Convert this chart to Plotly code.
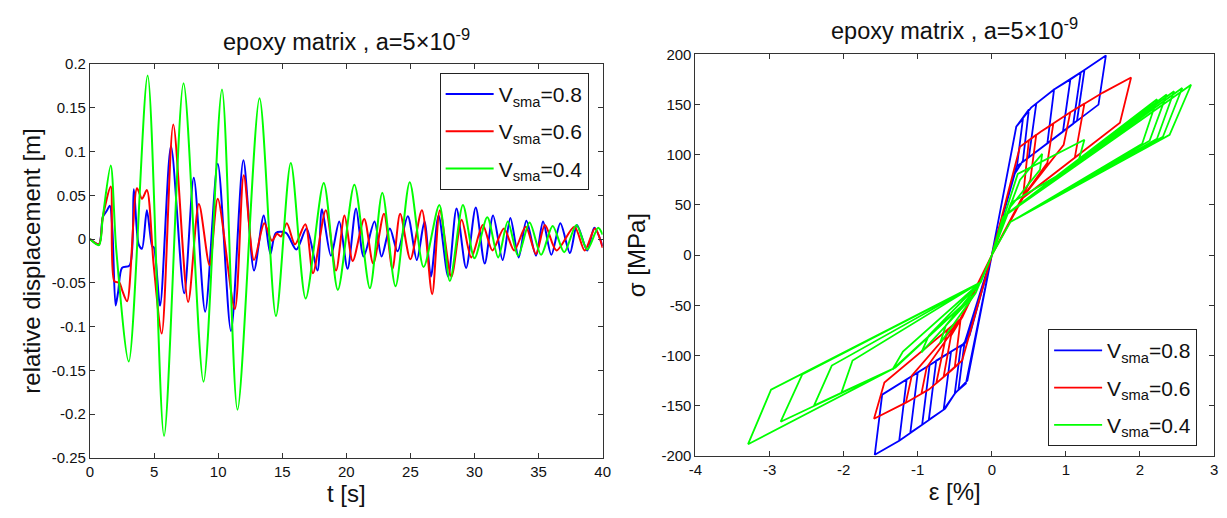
import plotly.graph_objects as go

# ---------------- left panel: relative displacement vs time (extrema) ----------------
t_08 = [0, 0.7, 1.0, 1.3, 1.55, 1.75, 2.0, 2.2, 2.5, 3.1, 3.42, 3.8, 4.06, 4.44, 4.85, 5.0, 5.47, 6.32, 7.35,
        8.1, 8.99, 9.97, 11.0, 11.97, 12.8, 13.56, 14.08, 14.5, 15.3, 16.1, 16.9, 17.75, 18.1, 18.8, 19.45,
        20.1, 20.76, 21.35, 22.2, 22.75, 23.4, 24.0, 24.8, 25.5, 26.1, 26.6, 27.2, 27.95, 28.6, 29.35, 30.1,
        30.8, 31.45, 32.2, 32.8, 33.45, 34.05, 34.8, 35.35, 36.0, 36.7, 37.45, 38.0, 38.8, 39.35, 40.0]
d_08 = [0, -0.006, 0.025, 0.032, 0.038, 0.01, -0.076, -0.06, -0.033, -0.030, 0.057, -0.006, -0.011, 0.033,
        -0.008, -0.01, -0.076, 0.106, -0.062, 0.070, -0.083, 0.086, -0.105, 0.090, -0.036, 0.027, -0.017,
        0.007, 0.007, -0.012, 0.012, -0.036, 0.034, -0.019, 0.020, -0.034, 0.035, -0.020, 0.020, -0.020,
        0.012, -0.014, 0.026, -0.024, 0.020, -0.043, 0.027, -0.043, 0.035, -0.033, 0.036, -0.028, 0.027,
        -0.024, 0.024, -0.021, 0.021, -0.019, 0.020, -0.018, 0.018, -0.016, 0.016, -0.013, 0.013, -0.008]

t_06 = [0, 0.7, 1.0, 1.62, 1.9, 2.3, 2.5, 2.9, 3.67, 4.06, 4.44, 4.96, 5.6, 6.5, 7.66, 8.5, 9.33, 9.97,
        11.3, 12.0, 12.8, 13.6, 14.2, 14.6, 14.9, 15.36, 16.0, 16.8, 17.4, 18.4, 19.2, 19.86, 20.5, 21.4,
        22.1, 22.94, 23.6, 24.2, 25.0, 25.9, 26.7, 27.3, 28.2, 29.0, 29.75, 30.65, 31.4, 32.3, 33.1, 34.0,
        34.8, 35.5, 36.4, 37.8, 38.6, 39.4, 40.0]
d_06 = [0, -0.006, 0.025, 0.060, -0.048, -0.050, -0.058, -0.071, 0.058, 0.046, 0.056, -0.028, -0.108,
        0.131, -0.072, 0.040, -0.030, 0.046, -0.080, 0.073, -0.024, 0.018, -0.002, 0.006, 0.003, 0.018,
        -0.006, 0.017, -0.039, 0.033, -0.036, 0.027, -0.025, 0.023, -0.028, 0.029, -0.034, 0.029, -0.023,
        0.033, -0.063, 0.033, -0.043, 0.022, -0.021, 0.016, -0.013, 0.012, -0.013, 0.014, -0.017, 0.016,
        -0.013, 0.014, -0.013, 0.012, -0.010]

t_04 = [0, 0.7, 1.0, 1.62, 2.05, 3.03, 4.50, 5.78, 7.30, 8.86, 10.30, 11.51, 13.23, 14.51, 15.67, 16.83,
        18.24, 19.34, 20.63, 21.84, 22.81, 23.84, 24.95, 26.03, 27.26, 28.08, 29.10, 30.0, 31.0, 31.85,
        32.6, 33.4, 34.3, 35.2, 36.1, 37.0, 37.95, 38.8, 39.65, 40.0]
d_04 = [0, -0.007, 0.025, 0.084, -0.012, -0.140, 0.187, -0.225, 0.178, -0.163, 0.171, -0.195, 0.161,
        -0.088, 0.087, -0.068, 0.064, -0.058, 0.062, -0.056, 0.053, -0.054, 0.065, -0.032, 0.039, -0.048,
        0.039, -0.022, 0.025, -0.021, 0.020, -0.019, 0.019, -0.018, 0.015, -0.015, 0.016, -0.012, 0.013,
        0.005]

# ---------------- right panel: stress-strain loops (vertices) ----------------
eps_08 = [0, 0.33, 0.42, 0.34, 0, -0.35, -0.45, -0.37, 0,
          0.33, 0.53, 0.6, 0.5, 0.33, 0, -0.35, -0.49, -0.63, -0.65, -0.55, -0.35, 0,
          0.33, 0.53, 0.84, 1.06, 0.96, 0.33, 0, -0.35, -0.49, -0.63, -0.94, -0.84, -0.35, 0,
          0.33, 0.53, 0.84, 1.06, 1.28, 1.54, 1.44, 0.33, 0,
          -0.35, -0.49, -0.63, -0.94, -1.25, -1.58, -1.48, -0.35, 0,
          0.33, 0.53, 0.84, 1.06, 1.25, 1.15, 0.33, 0, -0.35, -0.49, -0.63, -0.94, -1.25, -1.15, -0.35, 0,
          0.33, 0.53, 0.84, 1.06, 1.2, 1.1, 0.33, 0, -0.35, -0.49, -0.63, -0.94, -1.1, -1.0, -0.35, 0,
          0.33, 0.53, 0.84, 0.75, 0.33, 0, -0.35, -0.49, -0.63, -0.85, -0.75, -0.35, 0,
          0.33, 0.5, 0.42, 0.3, 0, -0.33, -0.5, -0.42, -0.3, 0]
sig_08 = [0, 128, 136, 89, 0, -128, -134, -88, 0,
          128, 147, 151, 97.5, 88, 0, -128, -137, -153, -154, -96, -87, 0,
          128, 147, 165, 175, 123, 88, 0, -128, -137, -153, -169, -109.5, -87, 0,
          128, 147, 165, 175, 186, 199, 150, 88, 0,
          -128, -137, -153, -169, -185, -199, -139, -87, 0,
          128, 147, 165, 175, 184.5, 134, 88, 0, -128, -137, -153, -169, -185, -124, -87, 0,
          128, 147, 165, 175, 182, 131, 88, 0, -128, -137, -153, -169, -177, -117, -87, 0,
          128, 147, 165, 111.5, 88, 0, -128, -137, -153, -164, -105, -87, 0,
          128, 145, 94, 80, 0, -125, -138, -92, -80, 0]

eps_06 = [0, 0.38, 0.5, 0.42, 0, -0.4, -0.5, -0.42, 0,
          0.38, 0.66, 0.83, 0.75, 0.4, 0, -0.4, -0.54, -0.75, -0.6, -0.4, 0,
          0.38, 0.66, 1.06, 0.97, 0.4, 0, -0.4, -0.54, -0.85, -1.16, -1.08, -0.4, 0,
          0.38, 0.66, 1.06, 1.5, 1.88, 1.73, 0.4, 0, -0.4, -0.54, -0.85, -1.16, -1.59, -1.45, -0.4, 0,
          0.38, 0.66, 1.06, 1.25, 1.12, 0.4, 0, -0.4, -0.54, -0.85, -0.95, -0.88, -0.4, 0,
          0.38, 0.6, 0.52, 0.4, 0, -0.4, -0.65, -0.55, -0.4, 0]
sig_06 = [0, 108, 114.4, 57, 0, -105, -111.8, -63, 0,
          108, 123, 131, 92, 56, 0, -105, -114.5, -127.7, -74.4, -62, 0,
          108, 123, 142.5, 110, 56, 0, -105, -114.5, -134, -147, -120, -62, 0,
          108, 123, 142.5, 162, 177, 132, 56, 0, -105, -114.5, -134, -147, -163, -127, -62, 0,
          108, 123, 142.5, 151, 97, 56, 0, -105, -114.5, -134, -138, -112, -62, 0,
          108, 120, 75, 56, 0, -105, -121, -80, -62, 0]

eps_04 = [0, 0.38, 0.68, 0.65, 0.25, 0, -0.22, -0.7, -0.62, -0.15, 0,
          0.35, 1.25, 1.16, 0.26, 0, -0.22, -1.34, -1.2, -0.15, 0,
          0.15, 2.23, 2.03, 0.25, 0, -0.22, -1.3, -2.03, -1.88, -0.15, 0,
          0.15, 2.69, 2.40, 0.25, 0, -0.22, -1.3, -3.29, -2.98, -0.15, 0,
          0.15, 2.57, 2.31, 0.25, 0, -0.22, -1.3, -2.85, -2.56, -0.15, 0,
          0.15, 2.46, 2.23, 0.25, 0, -0.22, -1.3, -2.40, -2.16, -0.15, 0,
          0.15, 2.36, 2.13, 0.25, 0, -0.22, -0.95, -0.85, -0.15, 0]
sig_04 = [0, 75, 101, 85, 48, 0, -38, -88, -70, -27, 0,
          81, 115, 91, 52, 0, -38, -114, -96, -27, 0,
          38, 155.4, 111, 33, 0, -38, -112, -137, -105, -27, 0,
          38, 169.8, 120, 33, 0, -38, -112, -188.4, -134, -27, 0,
          38, 166.6, 118, 33, 0, -38, -112, -166, -119, -27, 0,
          38, 163.4, 116, 33, 0, -38, -112, -150, -110, -27, 0,
          38, 160.2, 114, 33, 0, -38, -97, -80, -27, 0]

names = ["V<sub>sma</sub>=0.8", "V<sub>sma</sub>=0.6", "V<sub>sma</sub>=0.4"]
colors = ["#0000ff", "#ff0000", "#00ff00"]

x1_ticks = [0, 5, 10, 15, 20, 25, 30, 35, 40]
x1_labels = ["0", "5", "10", "15", "20", "25", "30", "35", "40"]
y1_ticks = [-0.25, -0.2, -0.15, -0.1, -0.05, 0, 0.05, 0.1, 0.15, 0.2]
y1_labels = ["-0.25", "-0.2", "-0.15", "-0.1", "-0.05", "0", "0.05", "0.1", "0.15", "0.2"]
x2_ticks = [-4, -3, -2, -1, 0, 1, 2, 3]
x2_labels = ["-4", "-3", "-2", "-1", "0", "1", "2", "3"]
y2_ticks = [-200, -150, -100, -50, 0, 50, 100, 150, 200]
y2_labels = ["-200", "-150", "-100", "-50", "0", "50", "100", "150", "200"]

FONT = "Liberation Sans, Arial, sans-serif"
W, H = 1227, 518

fig = go.Figure()
left_data = [(t_08, d_08), (t_06, d_06), (t_04, d_04)]
right_data = [(eps_08, sig_08), (eps_06, sig_06), (eps_04, sig_04)]
for i in range(3):
    fig.add_trace(go.Scatter(x=left_data[i][0], y=left_data[i][1], mode="lines", name=names[i],
                             line=dict(color=colors[i], width=2, shape="spline", smoothing=0.8),
                             legend="legend", legendgroup="L%d" % i, xaxis="x", yaxis="y"))
for i in range(3):
    fig.add_trace(go.Scatter(x=right_data[i][0], y=right_data[i][1], mode="lines", name=names[i],
                             line=dict(color=colors[i], width=1.8),
                             legend="legend2", legendgroup="R%d" % i, xaxis="x2", yaxis="y2"))

axis_common = dict(showgrid=False, zeroline=False, showline=True, linecolor="#333", linewidth=1,
                   mirror="allticks", ticks="inside", ticklen=5, tickwidth=1, tickcolor="#333",
                   tickfont=dict(family=FONT, size=15, color="#111"), tickmode="array")
title_font = dict(family=FONT, size=24, color="#111")
head_font = dict(family=FONT, size=23.5, color="#111")

fig.update_layout(
    width=W, height=H, margin=dict(l=0, r=0, t=0, b=0),
    paper_bgcolor="white", plot_bgcolor="white",
    font=dict(family=FONT, color="#111"),
    xaxis=dict(domain=[84 / W, 603 / W], range=[0, 40], tickvals=x1_ticks, ticktext=x1_labels,
               title=dict(text="t [s]", font=title_font, standoff=6), anchor="y", **axis_common),
    yaxis=dict(domain=[(H - 464) / H, (H - 57) / H], range=[-0.25, 0.2], tickvals=y1_ticks, ticktext=y1_labels,
               title=dict(text="relative displacement [m]", font=title_font, standoff=4), anchor="x", **axis_common),
    xaxis2=dict(domain=[697 / W, 1222 / W], range=[-4, 3], tickvals=x2_ticks, ticktext=x2_labels,
                title=dict(text="ε [%]", font=title_font, standoff=6), anchor="y2", **axis_common),
    yaxis2=dict(domain=[(H - 462) / H, (H - 47) / H], range=[-200, 200], tickvals=y2_ticks, ticktext=y2_labels,
                title=dict(text="σ [MPa]", font=title_font, standoff=9), anchor="x2", **axis_common),
    legend=dict(x=438 / W, y=1 - 66 / H, xanchor="left", yanchor="top", bgcolor="white",
                bordercolor="#222", borderwidth=1, font=dict(family=FONT, size=21, color="#111"),
                itemwidth=48, tracegroupgap=7),
    legend2=dict(x=1054 / W, y=1 - 331 / H, xanchor="left", yanchor="top", bgcolor="white",
                 bordercolor="#222", borderwidth=1, font=dict(family=FONT, size=21, color="#111"),
                 itemwidth=48, tracegroupgap=7),
    showlegend=True,
    annotations=[
        dict(text="epoxy matrix , a=5×10<sup>-9</sup>", x=(84 + 603) / 2 / W, y=1 - 50 / H,
             xref="paper", yref="paper", xanchor="center", yanchor="bottom", showarrow=False,
             font=head_font),
        dict(text="epoxy matrix , a=5×10<sup>-9</sup>", x=(697 + 1222) / 2 / W, y=1 - 38 / H,
             xref="paper", yref="paper", xanchor="center", yanchor="bottom", showarrow=False,
             font=head_font),
    ],
)

fig.write_html("out.html")
